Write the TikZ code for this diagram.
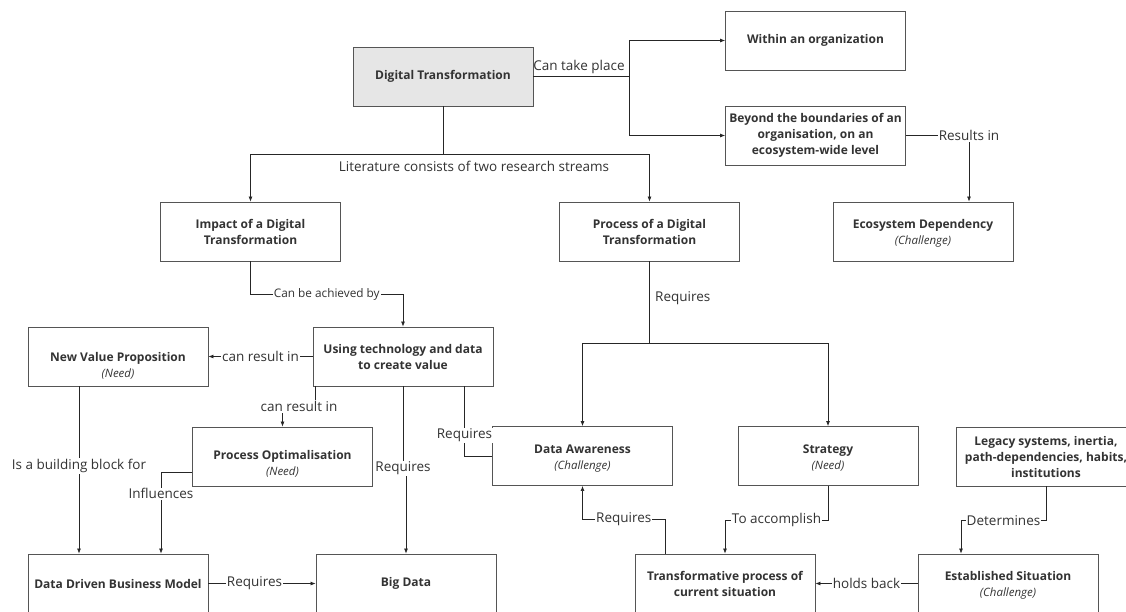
\documentclass[tikz,border=0pt]{standalone}
\usepackage{fontspec}
\setmainfont{Open Sans}
\usetikzlibrary{arrows.meta}
\definecolor{ink}{HTML}{333333}
\definecolor{edge}{HTML}{555555}
\definecolor{shade}{HTML}{E6E6E6}
\begin{document}
\begin{tikzpicture}[x=1pt,y=-1pt,
  box/.style={draw=edge, line width=0.9pt, minimum width=180pt, minimum height=59pt,
    align=center, text=ink, inner sep=2pt,
    font=\bfseries\fontsize{12}{16}\selectfont},
  bt/.style={align=center, text=ink, inner sep=0pt, font=\bfseries\fontsize{12}{16}\selectfont},
  tagged/.style 2 args={box, label={[bt, yshift=#1]center:{#2}}},
  lbl/.style={fill=white, inner sep=1pt, text=ink, font=\fontsize{13.5}{15}\selectfont},
  small/.style={lbl, font=\fontsize{11.8}{13}\selectfont},
  conn/.style={draw=black!85, line width=0.7pt},
  arr/.style={conn, -{Latex[length=5pt,width=4pt]}}]
\newcommand{\tag}[1]{\\[0pt]{\normalfont\itshape\fontsize{11.5}{16}\selectfont #1}}
\useasboundingbox (0,0) rectangle (1126,611);
\fill[white] (0,0) rectangle (1126,611);

% boxes
\node[box, fill=shade] (dt) at (443,76.5) {Digital Transformation};
\node[box] (within) at (815.5,40.5) {Within an organization};
\node[box] (beyond) at (815.5,135.5) {Beyond the boundaries of an\\organisation, on an\\ecosystem-wide level};
\node[tagged={-2pt}{Ecosystem Dependency\tag{(Challenge)}}] (eco) at (923,231.5) {};
\node[box] (impact) at (250.5,231.5) {Impact of a Digital\\Transformation};
\node[box] (proc) at (649.5,231.5) {Process of a Digital\\Transformation};
\node[tagged={-9pt}{New Value Proposition\tag{(Need)}}] (nvp) at (118,356.5) {};
\node[box] (using) at (403,356.5) {Using technology and data\\to create value};
\node[tagged={-7pt}{Process Optimalisation\tag{(Need)}}] (popt) at (282.5,456.5) {};
\node[tagged={-2.5pt}{Data Awareness\tag{(Challenge)}}] (aware) at (582.5,456) {};
\node[tagged={-2pt}{Strategy\tag{(Need)}}] (strat) at (828,456) {};
\node[box] (legacy) at (1046,456.5) {Legacy systems, inertia,\\path-dependencies, habits,\\institutions};
\node[box] (ddbm) at (118,583.5) {Data Driven Business Model};
\node[box] (big) at (406,583.5) {Big Data};
\node[box] (trans) at (725,583.5) {Transformative process of\\current situation};
\node[tagged={-2pt}{Established Situation\tag{(Challenge)}}] (est) at (1008,583.5) {};

% junction coordinates
\coordinate (split) at (629,0);
\coordinate (streams) at (0,154);
\coordinate (achieve) at (0,294);
\coordinate (needs) at (0,343);

% where it can take place
\draw[arr] (dt.east) -| (split |- within) -- (within.west);
\draw[arr] (dt.east) -| (split |- beyond) -- (beyond.west);
\node[text=ink, font=\fontsize{13.5}{15}\selectfont] (ctp) at (579,67) {Can take place};

% two research streams
\draw[arr] (dt.south) -- (dt.south |- streams) -| (impact.north);
\draw[arr] (dt.south |- streams) -| (proc.north);
\node[text=ink, font=\fontsize{13.5}{15}\selectfont] (lit) at (474,166) {Literature consists of two research streams};

\draw[arr] (beyond.east) -| node[lbl]{Results in} ([xshift=46pt]eco.north);

% impact stream
\draw[arr] (impact.south) -- (impact.south |- achieve) -- node[small]{Can be achieved by} (using.north |- achieve) -- (using.north);
\draw[arr] (using.west) -- node[lbl]{can result in} (nvp.east);
\draw[arr] ([xshift=3pt]using.south west) -- ++(0,20) -| node[lbl, pos=0.25]{can result in} (popt.north);
\draw[arr] (using.south) -- ++(0,82) coordinate (rq) -| (big.north);
\node[lbl] at (rq) {Requires};
\draw[conn] ([xshift=-29pt]using.south east) |- node[lbl, pos=0.35]{Requires} (aware.west);
\draw[arr] ([xshift=-39pt]nvp.south) -- node[lbl, pos=0.476]{Is a building block for} ([xshift=-39pt]ddbm.north);
\draw[arr] ([yshift=-15.5pt]popt.west) -| node[lbl, pos=0.634]{Influences} ([xshift=43pt]ddbm.north);
\draw[arr] (ddbm.east) -- node[lbl, pos=0.43]{Requires} (big.west);

% process stream
\draw[arr] (proc.south) -- node[pos=0.45, right=2pt, text=ink, font=\fontsize{13.5}{15}\selectfont]{Requires} (proc.south |- needs) -| (aware.north);
\draw[arr] (proc.south |- needs) -| (strat.north);
\draw[arr] ([xshift=-60pt]trans.north) -- ++(0,-34) -| node[lbl, pos=0.25]{Requires} (aware.south);
\draw[arr] (strat.south) -- ++(0,34) -| node[lbl, pos=0.25]{To accomplish} (trans.north);
\draw[arr] (legacy.south) -- ++(0,34) -| node[lbl, pos=0.25]{Determines} ([xshift=-47pt]est.north);
\draw[arr] (est.west) -- node[lbl]{holds back} (trans.east);
\end{tikzpicture}
\end{document}
